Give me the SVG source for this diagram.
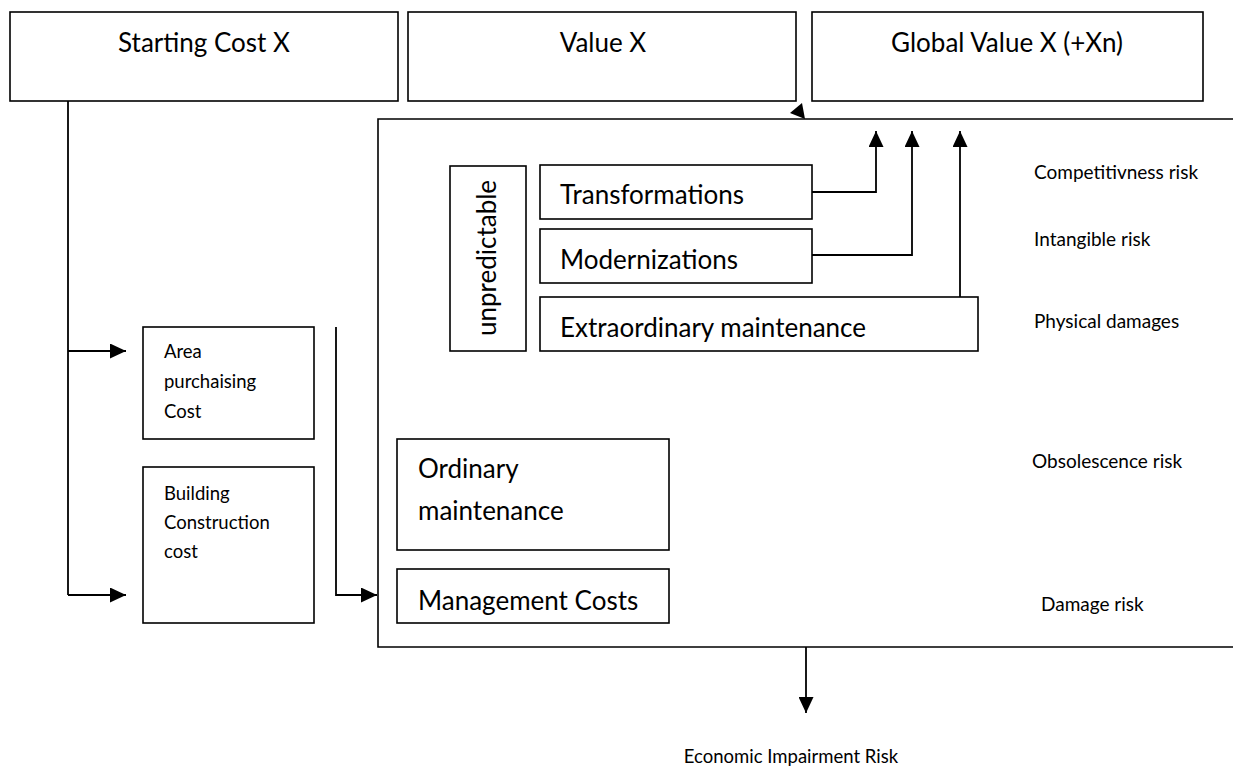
<svg xmlns="http://www.w3.org/2000/svg" width="1233" height="769" viewBox="0 0 1233 769">
<style>
.box{fill:#fff;stroke:#000;stroke-width:1.6}
.ln{fill:none;stroke:#000;stroke-width:1.8}
.t{font-family:Lato,"Liberation Sans",sans-serif;fill:#000}
.big{font-size:26px}
.sm{font-size:18.5px}
.rk{font-size:19px}
</style>
<defs>
<marker id="ah" viewBox="0 0 16 15" refX="16" refY="7.5" markerWidth="16" markerHeight="15" markerUnits="userSpaceOnUse" orient="auto">
<path d="M0,0 L16,7.5 L0,15 z" fill="#000"/>
</marker>
</defs>
<rect width="1233" height="769" fill="#fff"/>

<g id="starting-cost"><rect class="box" x="10" y="12" width="388" height="89"/><text class="t big" x="204" y="52" text-anchor="middle">Starting Cost X</text></g>
<g id="value-x"><rect class="box" x="408" y="12" width="388" height="89"/><text class="t big" x="603" y="52" text-anchor="middle">Value X</text></g>
<g id="global-value"><rect class="box" x="812" y="12" width="391" height="89"/><text class="t big" x="1007" y="52" text-anchor="middle">Global Value X (+Xn)</text></g>

<g id="container"><path class="box" d="M1240,119 H378 V647 H1240" /></g>

<g id="unpredictable"><rect class="box" x="450" y="166" width="76" height="185"/><text class="t big" transform="translate(496,258) rotate(-90)" text-anchor="middle">unpredictable</text></g>
<g id="transformations"><rect class="box" x="540" y="165" width="272" height="54"/><text class="t big" x="560" y="204">Transformations</text></g>
<g id="modernizations"><rect class="box" x="540" y="229" width="272" height="54"/><text class="t big" x="560" y="269">Modernizations</text></g>
<g id="extraordinary"><rect class="box" x="540" y="297" width="438" height="54"/><text class="t big" x="560" y="337">Extraordinary maintenance</text></g>

<g id="area-cost"><rect class="box" x="143" y="327" width="171" height="112"/><text class="t sm" x="164" y="358">Area</text><text class="t sm" x="164" y="388">purchaising</text><text class="t sm" x="164" y="418">Cost</text></g>
<g id="building-cost"><rect class="box" x="143" y="467" width="171" height="156"/><text class="t sm" x="164" y="500">Building</text><text class="t sm" x="164" y="529">Construction</text><text class="t sm" x="164" y="558">cost</text></g>

<g id="ordinary"><rect class="box" x="397" y="439" width="272" height="111"/><text class="t big" x="418" y="478">Ordinary</text><text class="t big" x="418" y="520">maintenance</text></g>
<g id="management"><rect class="box" x="397" y="569" width="272" height="54"/><text class="t big" x="418" y="610">Management Costs</text></g>

<g id="risk-labels">
<text class="t rk" x="1034" y="179">Competitivness risk</text>
<text class="t rk" x="1034" y="246">Intangible risk</text>
<text class="t rk" x="1034" y="328">Physical damages</text>
<text class="t rk" x="1032" y="468">Obsolescence risk</text>
<text class="t rk" x="1041" y="611">Damage risk</text>
</g>
<g id="economic-risk"><text class="t sm" x="791" y="763" text-anchor="middle">Economic Impairment Risk</text></g>

<g id="connectors">
<path class="ln" d="M68,101 V595"/>
<path class="ln" d="M68,351 H126" marker-end="url(#ah)"/>
<path class="ln" d="M68,595 H126" marker-end="url(#ah)"/>
<path class="ln" d="M336,327 V595 H377" marker-end="url(#ah)"/>
<path class="ln" d="M812,192 H876 V131" marker-end="url(#ah)"/>
<path class="ln" d="M812,255 H912 V131" marker-end="url(#ah)"/>
<path class="ln" d="M960,297 V131" marker-end="url(#ah)"/>
<path class="ln" d="M806,647 V713" marker-end="url(#ah)"/>
<path d="M790,113 L802,103 L805,119 z" fill="#000"/>
</g>
</svg>
